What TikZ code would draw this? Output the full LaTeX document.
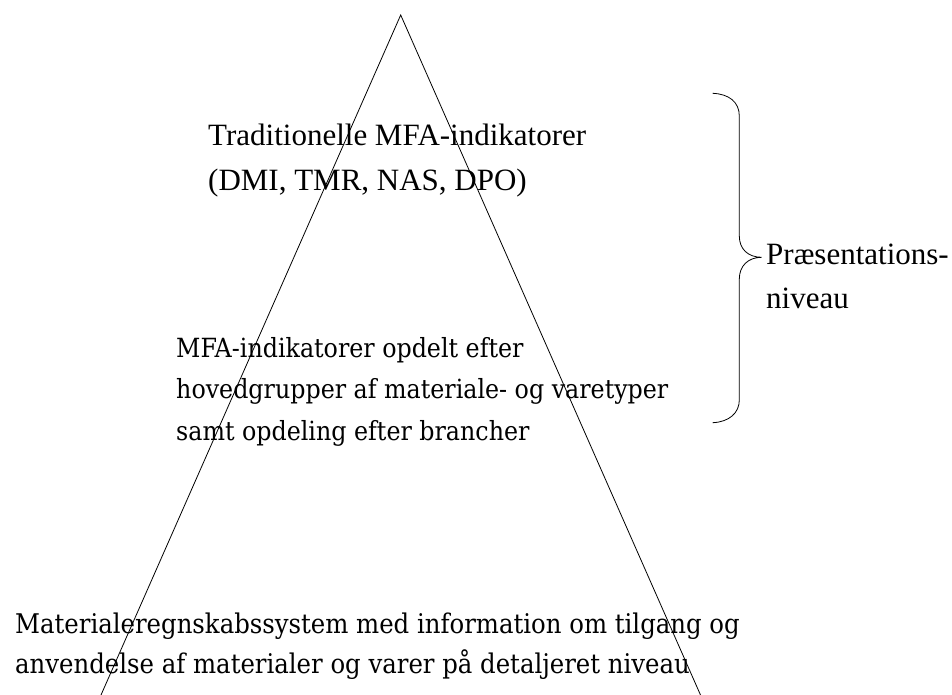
\documentclass[tikz,border=0pt]{standalone}
\usepackage{fontspec}
\setmainfont{Liberation Serif}
\newfontfamily\bodyserif{DejaVu Serif Condensed}
\begin{document}
\begin{tikzpicture}[x=1pt,y=-1pt,
  level/.style={anchor=base west,inner sep=0pt,align=left},
  upper/.style={level,font=\fontsize{31}{44}\selectfont},
  lower/.style={level,font=\bodyserif\fontsize{26.4}{41.5}\selectfont},
  edge/.style={draw=black,line width=0.8pt},
  bracestyle/.style={draw=black,line width=0.8pt}]
  \useasboundingbox (0,0) rectangle (952,695);

  % pyramid sides
  \coordinate (apex) at (400.7,15);
  \coordinate (baseL) at (101,695);
  \coordinate (baseR) at (700.5,695);
  \draw[edge] (baseL) -- (apex) -- (baseR);

  % levels of the pyramid (positions are the baselines of the last lines)
  \node[upper] (top) at (208,190)
    {Traditionelle MFA-indikatorer\\(DMI, TMR, NAS, DPO)};
  \node[lower] (mid) at (176,440)
    {MFA-indikatorer opdelt efter\\hovedgrupper af materiale- og varetyper\\samt opdeling efter brancher};
  \node[lower,font=\bodyserif\fontsize{27.1}{39.5}\selectfont] (bottom) at (15,673)
    {Materialeregnskabssystem med information om tilgang og\\anvendelse af materialer og varer på detaljeret niveau};

  % brace grouping the two upper levels
  \coordinate (brTop) at (712.7,93.3);
  \coordinate (brTip) at (761.7,257.3);
  \coordinate (brBot) at (712.7,422.7);
  \draw[bracestyle] (brTop) .. controls (729,94) and (739.3,102) .. (739.3,116)
    -- (739.3,236) .. controls (739.3,249) and (748,257.3) .. (brTip)
    .. controls (748,257.3) and (739.3,266) .. (739.3,279)
    -- (739.3,400) .. controls (739.3,413) and (729,422) .. (brBot);
  \node[upper] (label) at (766,308) {Præsentations-\\niveau};
\end{tikzpicture}
\end{document}
